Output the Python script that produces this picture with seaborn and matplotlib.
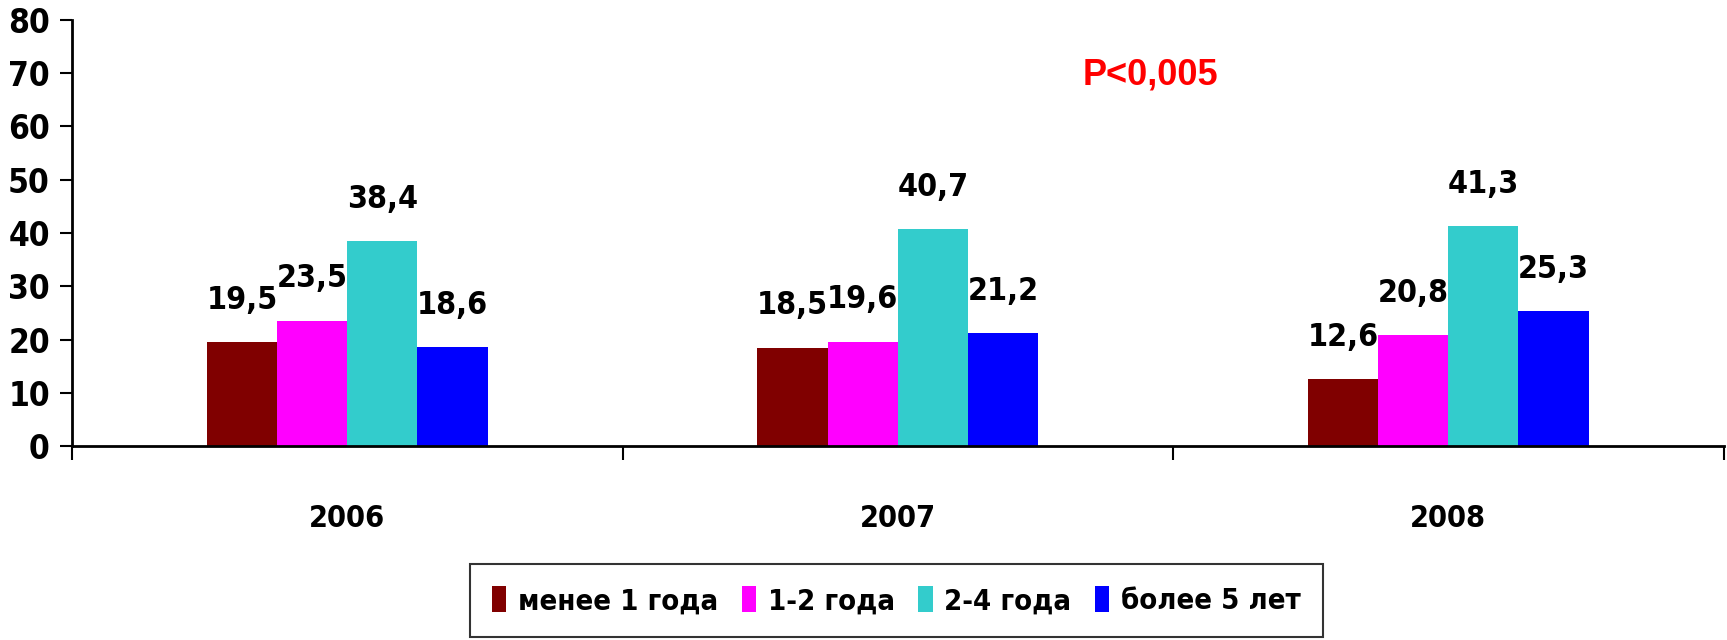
import pandas as pd
import matplotlib.pyplot as plt
import seaborn as sns

# ── Data ──────────────────────────────────────────────────────
years = ["2006", "2007", "2008"]
groups = ["менее 1 года", "1-2 года", "2-4 года", "более 5 лет"]
less_1 = [19.5, 18.5, 12.6]
y1_2 = [23.5, 19.6, 20.8]
y2_4 = [38.4, 40.7, 41.3]
more_5 = [18.6, 21.2, 25.3]
colors = ["#800000", "#FF00FF", "#33CCCC", "#0000FF"]
y_ticks = [0, 10, 20, 30, 40, 50, 60, 70, 80]

df = pd.DataFrame({
    "year": years * 4,
    "group": [g for g in groups for _ in years],
    "value": less_1 + y1_2 + y2_4 + more_5,
})

# ── Style ─────────────────────────────────────────────────────
sns.set_theme(style="white")
plt.rcParams['font.family'] = ['Liberation Sans Narrow', 'DejaVu Sans']
plt.rcParams['font.stretch'] = 'condensed'
plt.rcParams['font.weight'] = 'bold'
for k in ['text.color', 'axes.labelcolor', 'xtick.color', 'ytick.color']:
    plt.rcParams[k] = 'black'

fig = plt.figure(figsize=(17.27, 6.4), dpi=100)
ax = fig.add_axes([0.0417, 0.303, 0.9563, 0.666])

sns.barplot(data=df, x="year", y="value", hue="group", palette=colors,
            width=0.51, gap=0, saturation=1, linewidth=0, ax=ax, legend=True)

for cont in ax.containers:
    ax.bar_label(cont, labels=[f"{v:.1f}".replace(".", ",") for v in cont.datavalues],
                 padding=19, fontsize=23, fontweight='bold')

ax.set_ylim(0, 80)
ax.set_xlim(-0.5, 2.5)
ax.set_yticks(y_ticks)
ax.set_xlabel("")
ax.set_ylabel("")
ax.tick_params(axis='y', labelsize=24, length=9, width=1.5, color='black', direction='out',
               left=True, pad=7)
ax.tick_params(axis='x', which='major', labelsize=22, length=0, pad=42)
ax.set_xticks([-0.5, 0.5, 1.5, 2.5], minor=True)
ax.tick_params(axis='x', which='minor', length=10, width=1.5, color='black', direction='out',
               bottom=True)
for lbl in ax.get_yticklabels() + ax.get_xticklabels():
    lbl.set_fontweight('bold')

sns.despine(ax=ax)
for s in ["left", "bottom"]:
    ax.spines[s].set_color("black")
    ax.spines[s].set_linewidth(2)

ax.text(1.459, 69.7, "P<0,005", color="red", fontsize=26, fontweight='bold',
        fontstretch='normal', ha='center', va='center',
        family=['Liberation Sans', 'DejaVu Sans'])

handles, labels = ax.get_legend_handles_labels()
ax.legend_.remove()
leg = fig.legend(handles, labels, loc='lower center', bbox_to_anchor=(0.519, 0.0),
                 ncol=4, frameon=True, fancybox=False, edgecolor='black',
                 fontsize=21, handlelength=0.5, handleheight=1.0, handletextpad=0.4,
                 columnspacing=0.8, borderpad=0.75, borderaxespad=0.1)
leg.get_frame().set_linewidth(1.5)
for t in leg.get_texts():
    t.set_fontweight('bold')

plt.savefig("out.png", dpi=100)
